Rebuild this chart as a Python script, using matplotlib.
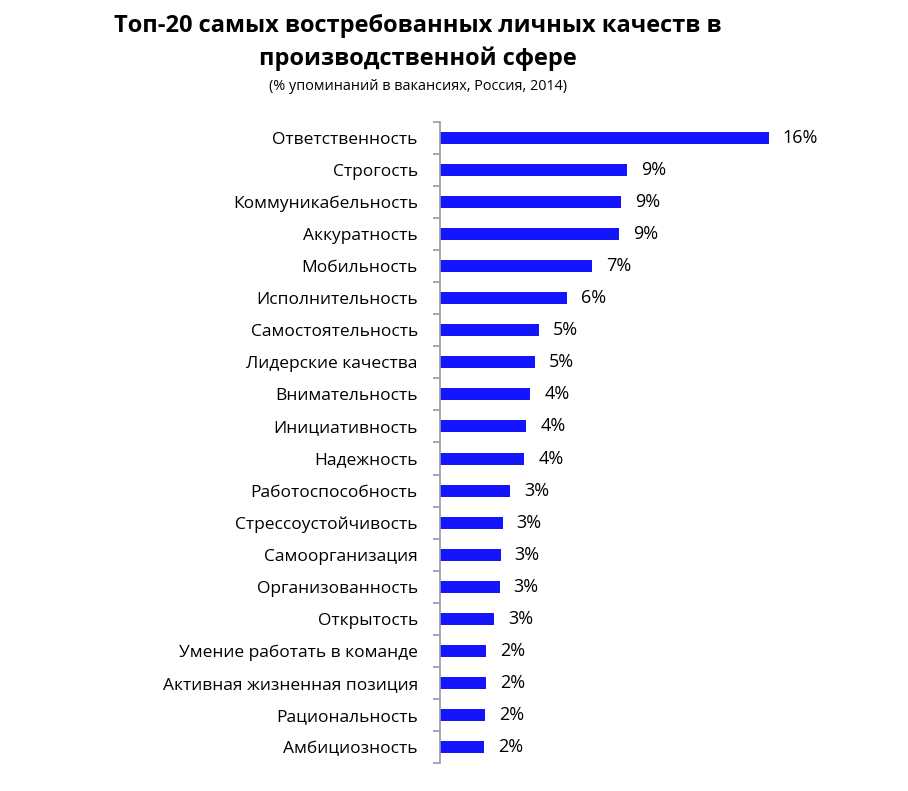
import matplotlib
matplotlib.use('Agg')
import matplotlib.pyplot as plt
import numpy as np

plt.rcParams['font.family'] = ['Open Sans', 'DejaVu Sans']

categories = ['Ответственность', 'Строгость', 'Коммуникабельность', 'Аккуратность',
              'Мобильность', 'Исполнительность', 'Самостоятельность', 'Лидерские качества',
              'Внимательность', 'Инициативность', 'Надежность', 'Работоспособность',
              'Стрессоустойчивость', 'Самоорганизация', 'Организованность', 'Открытость',
              'Умение работать в команде', 'Активная жизненная позиция', 'Рациональность',
              'Амбициозность']
values = [16.0, 9.1, 8.8, 8.7, 7.4, 6.2, 4.8, 4.6, 4.4, 4.2,
          4.1, 3.4, 3.05, 2.95, 2.9, 2.65, 2.25, 2.25, 2.2, 2.15]
value_labels = ['16%', '9%', '9%', '9%', '7%', '6%', '5%', '5%', '4%', '4%',
                '4%', '3%', '3%', '3%', '3%', '3%', '2%', '2%', '2%', '2%']

fig = plt.figure(figsize=(9.08, 7.91), dpi=100, facecolor='white')
ax = fig.add_axes([0.4846, 0.0354, 0.4075, 0.8104])

y = np.arange(len(categories))
ax.barh(y, values, height=0.375, color='#1414FF')
ax.set_xlim(0, 18)
ax.set_ylim(len(categories) - 0.5, -0.5)

for yi, v, lab in zip(y, values, value_labels):
    ax.annotate(lab, (v, yi), xytext=(10, 0), textcoords='offset points',
                ha='left', va='center', fontsize=13, color='black')

ax.set_yticks(y)
ax.set_yticklabels(categories, fontsize=12.5)
ax.tick_params(axis='y', which='major', length=0, pad=16)
ax.set_yticks(np.arange(-0.5, len(categories)), minor=True)
ax.tick_params(axis='y', which='minor', length=5, color='#999999', width=1.2)
ax.set_xticks([])

for s in ['top', 'right', 'bottom']:
    ax.spines[s].set_visible(False)
ax.spines['left'].set_color('#999999')
ax.spines['left'].set_linewidth(1.2)

fig.text(0.46, 0.982, 'Топ-20 самых востребованных личных качеств в\nпроизводственной сфере',
         ha='center', va='top', fontsize=17, fontweight='bold', linespacing=1.45)
fig.text(0.46, 0.891, '(% упоминаний в вакансиях, Россия, 2014)',
         ha='center', va='center', fontsize=10.4)

fig.savefig('out.png', dpi=100)
